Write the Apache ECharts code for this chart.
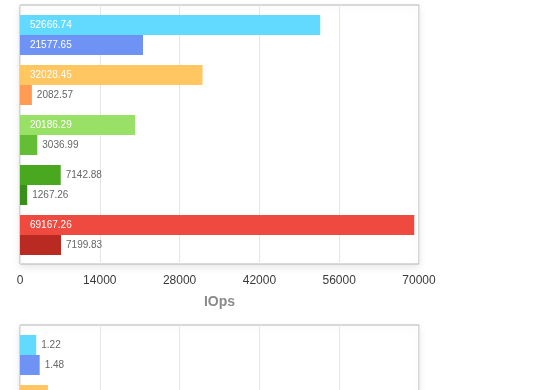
<!DOCTYPE html>
<html>
<head>
<meta charset="utf-8">
<script src="https://cdn.jsdelivr.net/npm/echarts@6/dist/echarts.min.js"></script>
<style>
html,body{margin:0;padding:0;background:#fff;overflow:hidden;}
#chart{width:560px;height:660px;}
</style>
</head>
<body>
<div id="chart"></div>
<script>
// ---- data ----
const categories = ['1', '2', '3', '4', '5'];
const iopsFirst = [52666.74, 32028.45, 20186.29, 7142.88, 69167.26];
const iopsSecond = [21577.65, 2082.57, 3036.99, 1267.26, 7199.83];
const iopsTicks = { min: 0, max: 70000, interval: 14000 };
const latFirst = [1.22, 2.1, null, null, null];
const latSecond = [1.48, null, null, null, null];
const latTicks = { min: 0, max: 30, interval: 6 };

// ---- styles ----
const firstColors = ['#62d9ff', '#ffc662', '#98e066', '#49a720', '#ef4a40'];
const secondColors = ['#6e93f5', '#ff9b54', '#63bd35', '#3a8e1a', '#b92b22'];
const FONT = '"Liberation Sans", Arial, Helvetica, sans-serif';

function items(vals, colors, max) {
  return vals.map((v, i) => v == null ? null : ({
    value: v,
    itemStyle: { color: colors[i] },
    label: v / max > 0.15
      ? { position: 'insideLeft', distance: 10, color: '#ffffff' }
      : { position: 'right', distance: 5, color: '#666666' }
  }));
}

const boxGrid = (top) => ({
  left: 20, top: top, width: 399, height: 259, show: true,
  borderColor: '#b3b3b3', borderWidth: 1, backgroundColor: '#ffffff',
  shadowBlur: 8, shadowOffsetY: 3, shadowColor: 'rgba(0,0,0,0.10)'
});
const barGrid = (top) => ({ left: 20, top: top + 5, width: 399, height: 250 });

function visibleX(gi, ticks, name) {
  return {
    gridIndex: gi, type: 'value', min: ticks.min, max: ticks.max, interval: ticks.interval,
    axisLine: { show: false }, axisTick: { show: false },
    splitLine: { show: true, lineStyle: { color: '#e6e6e6', width: 1 } },
    axisLabel: { color: '#3a3a3a', fontSize: 12, margin: 11, fontFamily: FONT, formatter: v => String(v) },
    name: name, nameLocation: 'middle', nameGap: 31,
    nameTextStyle: { color: '#8a8a8a', fontSize: 14, fontWeight: 'bold', fontFamily: FONT }
  };
}
function hiddenX(gi, ticks) {
  return { gridIndex: gi, type: 'value', min: ticks.min, max: ticks.max, interval: ticks.interval, show: false, splitLine: { show: false } };
}
function hiddenY(gi) {
  return { gridIndex: gi, type: 'category', data: categories, inverse: true, show: false };
}
function barSeries(xi, vals, colors, max) {
  return {
    type: 'bar', xAxisIndex: xi, yAxisIndex: xi, barWidth: 20, barGap: '0%',
    label: { show: true, fontSize: 10, fontFamily: FONT, formatter: p => p.value.toFixed(2) },
    data: items(vals, colors, max)
  };
}

const chart = echarts.init(document.getElementById('chart'), null, { renderer: 'canvas' });
chart.setOption({
  animation: false,
  grid: [boxGrid(5), barGrid(5), boxGrid(325), barGrid(325)],
  xAxis: [visibleX(0, iopsTicks, 'IOps'), hiddenX(1, iopsTicks), visibleX(2, latTicks, ''), hiddenX(3, latTicks)],
  yAxis: [hiddenY(0), hiddenY(1), hiddenY(2), hiddenY(3)],
  series: [
    barSeries(1, iopsFirst, firstColors, iopsTicks.max),
    barSeries(1, iopsSecond, secondColors, iopsTicks.max),
    barSeries(3, latFirst, firstColors, latTicks.max),
    barSeries(3, latSecond, secondColors, latTicks.max)
  ]
});
</script>
</body>
</html>
